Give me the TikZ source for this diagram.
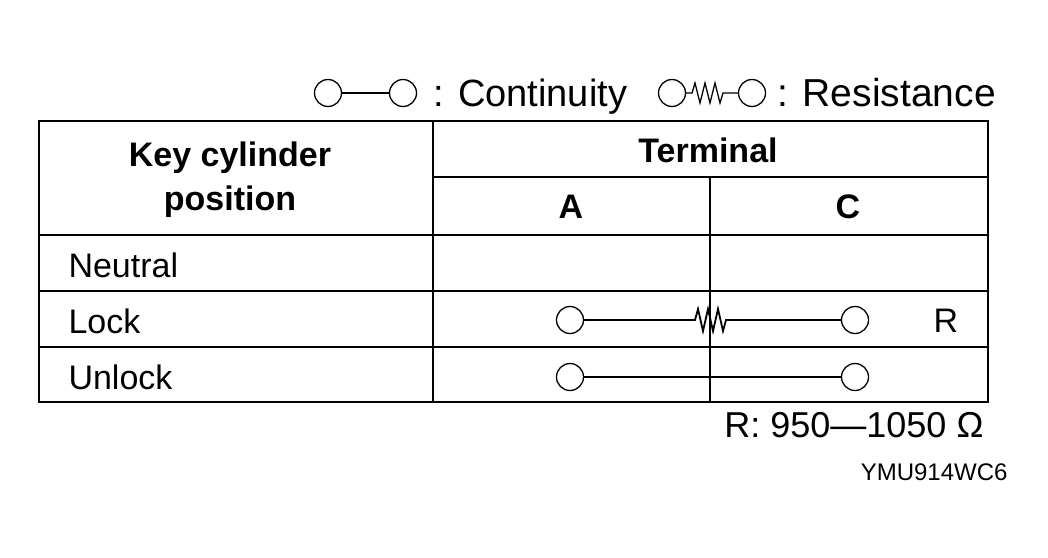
\documentclass[tikz,border=0pt]{standalone}
\usepackage{fontspec}
\setmainfont{Liberation Sans}
\usetikzlibrary{positioning}
\begin{document}
\begin{tikzpicture}[x=1pt,y=-1pt,
  term/.style={draw, circle, line width=1.3pt, minimum size=27pt, inner sep=0pt},
  cell/.style={font=\fontsize{34}{36}\selectfont, anchor=base west},
  head/.style={font=\bfseries\fontsize{34}{44}\selectfont, align=center},
  wire/.style={line width=1.3pt},
  grid/.style={line width=1.6pt}
]
\useasboundingbox (0,0) rectangle (1048,557);

% Legend
\node[term] (lc1) at (328,93) {};
\node[term] (lc2) at (403,93) {};
\draw[wire] (lc1) -- (lc2);
\node[font=\fontsize{38}{40}\selectfont, anchor=base west] (lcont) at (430,106) {: Continuity};
\node[term] (lr1) at (672,93) {};
\node[term] (lr2) at (752,93) {};
\coordinate (lzs) at (692,93);
\coordinate (lze) at (732,93);
\draw[wire] (lr1) -- (lzs) -- ++(3,-10) -- ++(5,20) -- ++(5,-20) -- ++(5,20) -- ++(5,-20) -- ++(5,20) -- ++(3,-10) -- (lze) -- (lr2);
\node[font=\fontsize{39}{40}\selectfont, anchor=base west] (lres) at (774,106) {: Resistance};

% Table grid
\draw[grid] (39,121) rectangle (988,402);
\draw[grid] (433,121) -- (433,402);
\draw[grid] (433,177) -- (988,177);
\draw[grid] (710,177) -- (710,402);
\foreach \y in {235,291,347} \draw[grid] (39,\y) -- (988,\y);

% Headers
\node[head] (hkey) at (230,180) {Key cylinder\\ position};
\node[head] (hterm) at (708,150) {Terminal};
\node[head] (ha) at (571,207) {A};
\node[head] (hc) at (848,207) {C};

% Rows
\node[cell] (rneu) at (65,277) {Neutral};
\node[cell] (rlock) at (65,333) {Lock};
\node[cell] (runl) at (65,389) {Unlock};

% Lock: resistance
\node[term] (la) at (570,320) {};
\node[term] (lcc) at (855,320) {};
\coordinate (zs) at (695,320);
\coordinate (ze) at (730,320);
\draw[wire, line width=1.8pt] (la) -- (zs) -- ++(3,-11) -- ++(5,22) -- ++(5,-22) -- ++(5,22) -- ++(5,-22) -- ++(5,22) -- ++(3,-11) -- (ze) -- (lcc);
\node[font=\fontsize{34}{36}\selectfont] (rr) at (946,321) {R};

% Unlock: continuity
\node[term] (ua) at (570,377) {};
\node[term] (uc) at (855,377) {};
\draw[wire] (ua) -- (uc);

% Notes
\node[font=\fontsize{36}{38}\selectfont, anchor=east] (rval) at (987,425) {R: 950—1050 Ω};
\node[font=\fontsize{24}{26}\selectfont, anchor=east] (code) at (1011,472) {YMU914WC6};
\end{tikzpicture}
\end{document}
